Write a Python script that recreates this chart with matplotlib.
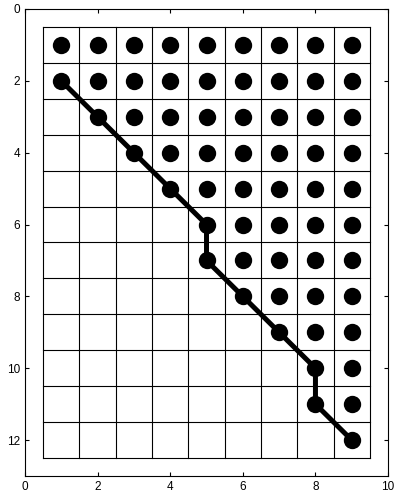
import numpy as np
import matplotlib
matplotlib.use("Agg")
import matplotlib.pyplot as plt

plt.rcParams['font.family'] = ['Liberation Sans', 'DejaVu Sans']

# warping path through the cost grid (column, row)
path_x = [1, 2, 3, 4, 5, 5, 6, 7, 8, 8, 9]
path_y = [2, 3, 4, 5, 6, 7, 8, 9, 10, 11, 12]

# first filled column in each row 1..12
rows = list(range(1, 13))
first_col = [1, 1, 2, 3, 4, 5, 5, 6, 7, 8, 8, 9]
n_cols = 9

fig = plt.figure(figsize=(3.96, 5.0), dpi=100)
ax = fig.add_axes([0.063, 0.048, 0.917, 0.934])

# cell grid
for x in np.arange(0.5, n_cols + 1, 1.0):
    ax.plot([x, x], [0.5, 12.5], color='black', lw=0.8)
for y in np.arange(0.5, 13, 1.0):
    ax.plot([0.5, n_cols + 0.5], [y, y], color='black', lw=0.8)

# filled cells
dx, dy = [], []
for r, c0 in zip(rows, first_col):
    for c in range(c0, n_cols + 1):
        dx.append(c)
        dy.append(r)
ax.plot(dx, dy, 'o', color='black', ms=12.5, mew=0, zorder=3)

ax.plot(path_x, path_y, '-', color='black', lw=3.6, zorder=4)

ax.set_xlim(0, 10)
ax.set_ylim(13, 0)
ax.set_xticks(range(0, 11, 2))
ax.set_yticks(range(0, 13, 2))
ax.tick_params(direction='in', length=3, top=True, right=True, labelsize=8.5, width=0.8)
for s in ax.spines.values():
    s.set_linewidth(0.8)

fig.savefig('out.png', dpi=100)
